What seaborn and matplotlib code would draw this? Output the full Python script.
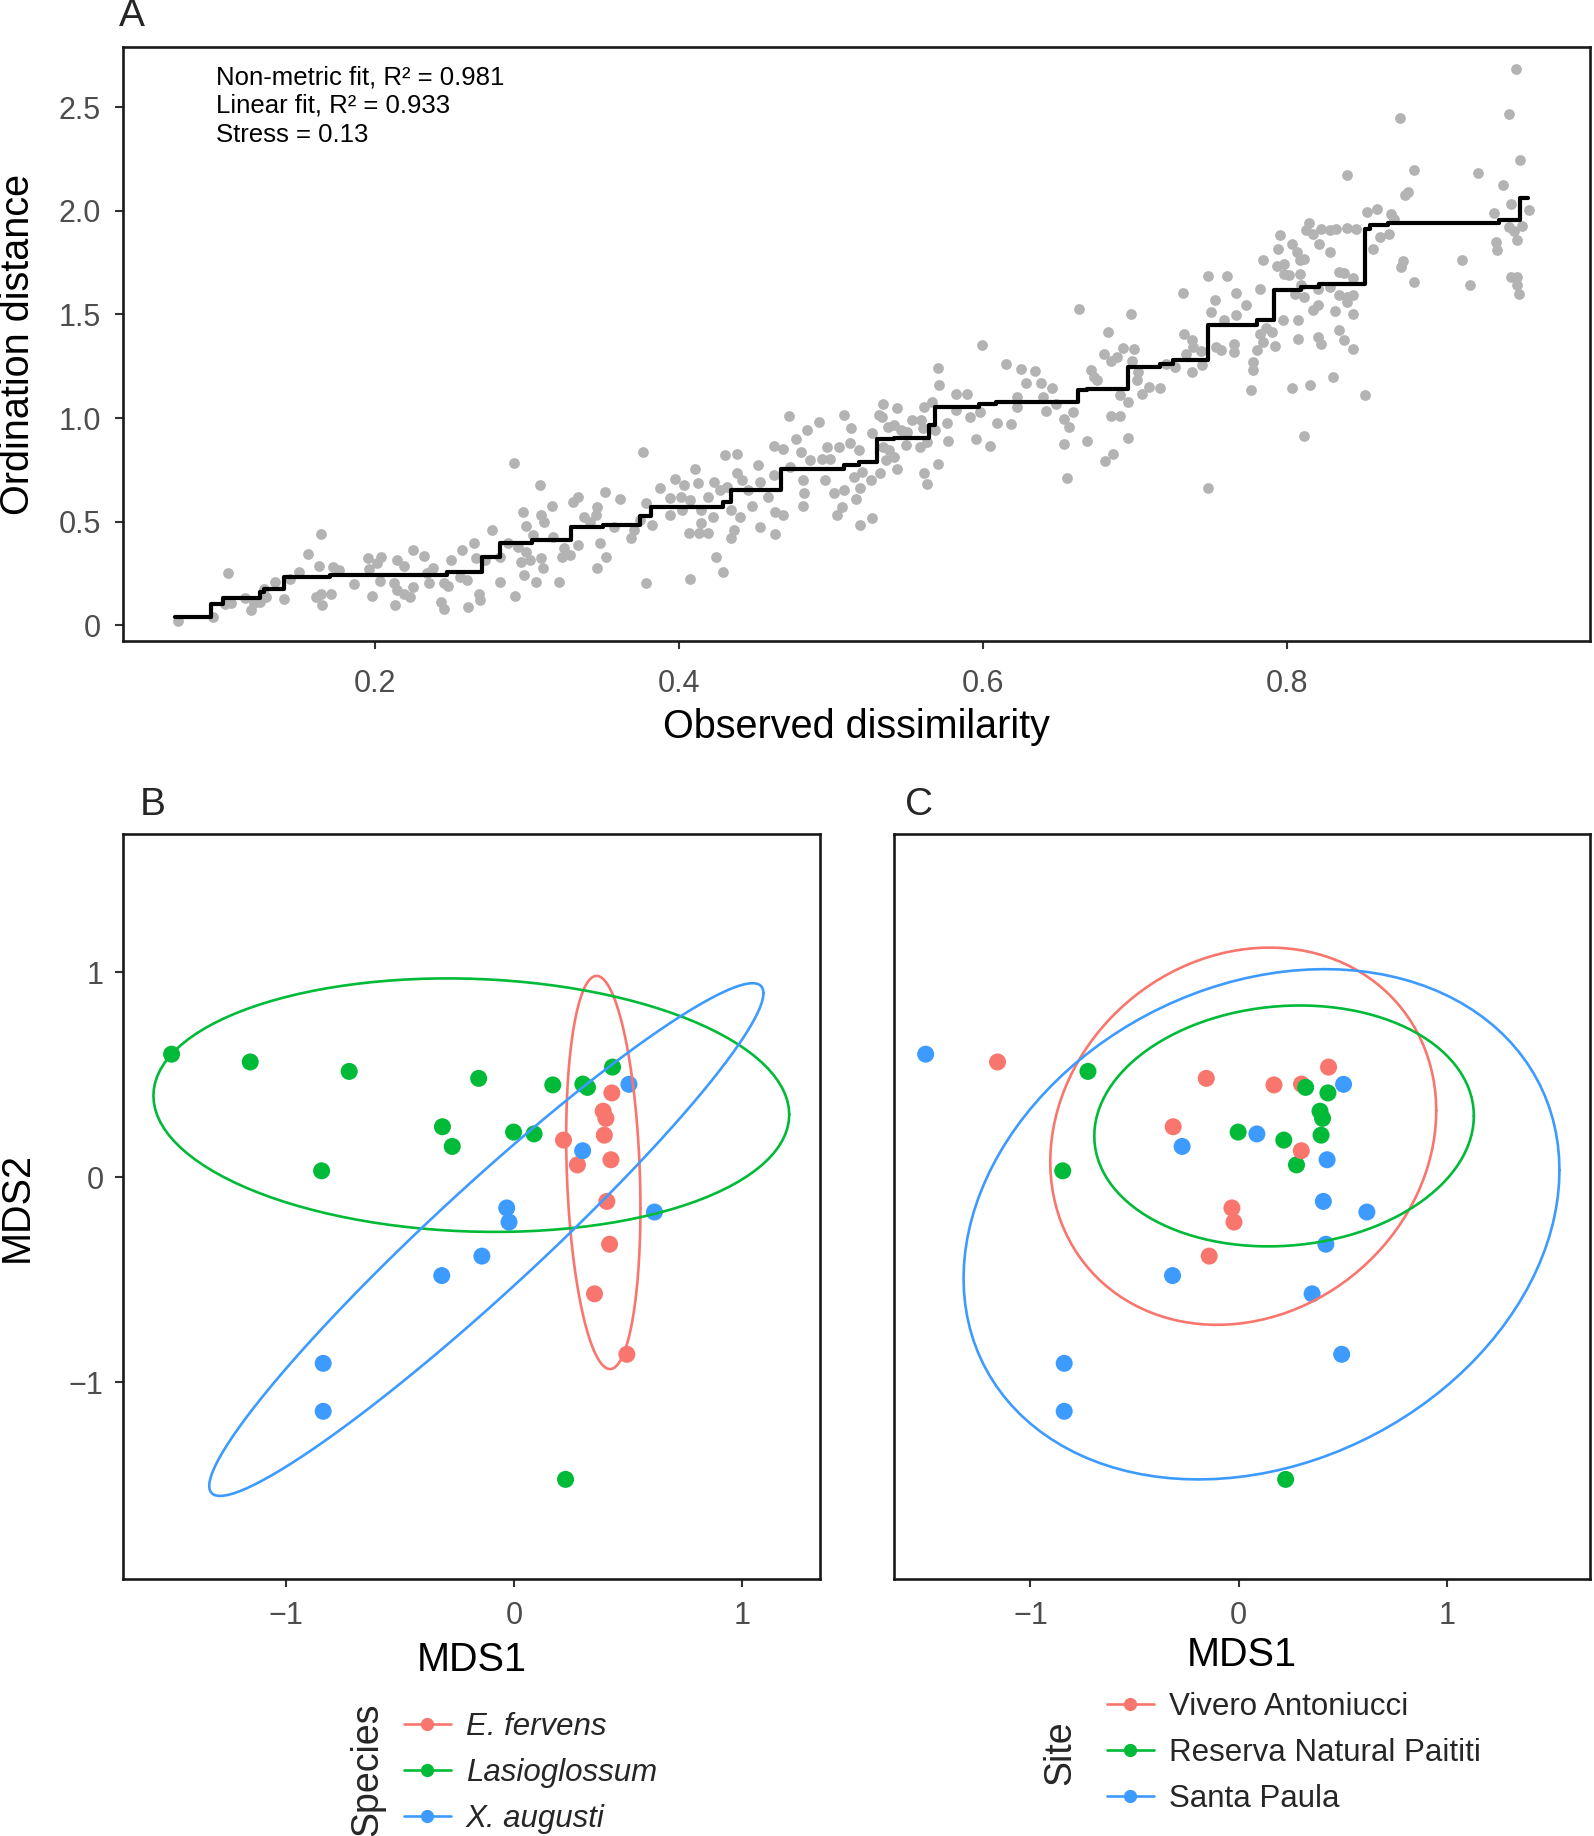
import numpy as np
import pandas as pd
import matplotlib
matplotlib.use("Agg")
import matplotlib.pyplot as plt
import seaborn as sns
from matplotlib.lines import Line2D

sns.set_theme(style="white")
plt.rcParams["font.family"] = ["Liberation Sans", "DejaVu Sans"]

# ---------------- Panel A: Shepard diagram data ----------------
shep_x = [
    0.070, 0.093, 0.103, 0.101, 0.105, 0.114, 0.118, 0.120, 0.124, 0.127, 0.128, 0.134, 0.140, 0.144, 0.150,
    0.156, 0.163, 0.164, 0.161, 0.164, 0.165, 0.171, 0.172, 0.176, 0.186, 0.195, 0.196, 0.201, 0.204, 0.198,
    0.203, 0.214, 0.219, 0.212, 0.214, 0.219, 0.223, 0.225, 0.213, 0.225, 0.232, 0.234, 0.235, 0.238, 0.243,
    0.245, 0.245, 0.248, 0.250, 0.256, 0.257, 0.260, 0.261, 0.265, 0.266, 0.268, 0.269, 0.272, 0.277, 0.282,
    0.282, 0.292, 0.306, 0.321, 0.378, 0.407,
    0.291, 0.308, 0.297, 0.299, 0.309, 0.316, 0.311, 0.304, 0.287, 0.294, 0.299, 0.302, 0.296, 0.309, 0.310,
    0.298, 0.323, 0.328, 0.317, 0.324, 0.333, 0.330, 0.333, 0.337, 0.341, 0.346, 0.345, 0.351, 0.348, 0.352,
    0.346, 0.361, 0.357, 0.368, 0.370, 0.374, 0.376, 0.378, 0.382, 0.387, 0.394, 0.394, 0.397, 0.401, 0.402,
    0.403, 0.406, 0.407, 0.410, 0.412, 0.413, 0.414, 0.414, 0.419, 0.419, 0.422, 0.423, 0.424, 0.429, 0.427,
    0.430, 0.431, 0.434, 0.436, 0.434, 0.438, 0.438, 0.441, 0.440, 0.445, 0.448, 0.452, 0.453, 0.453, 0.458,
    0.462, 0.462, 0.463, 0.463, 0.468, 0.468, 0.472, 0.473, 0.477, 0.480, 0.481, 0.482, 0.481, 0.484, 0.486,
    0.492, 0.494, 0.497, 0.496, 0.499, 0.502, 0.504, 0.507, 0.508, 0.505, 0.508, 0.513, 0.512, 0.515, 0.516,
    0.518, 0.519, 0.519, 0.520, 0.526, 0.527, 0.527, 0.531,
    0.534, 0.533, 0.543, 0.537, 0.541, 0.546, 0.550, 0.553, 0.559, 0.561, 0.566, 0.560, 0.568, 0.534, 0.538,
    0.541, 0.536, 0.543, 0.532, 0.549, 0.558, 0.563, 0.561, 0.563, 0.570, 0.570, 0.571, 0.576, 0.577, 0.582,
    0.589, 0.582, 0.591, 0.595, 0.598, 0.599, 0.604, 0.609, 0.615, 0.618, 0.622, 0.622, 0.625, 0.628, 0.634,
    0.638, 0.639, 0.641, 0.645, 0.648, 0.653, 0.653, 0.655, 0.656, 0.659, 0.663, 0.668, 0.671, 0.673, 0.675,
    0.679, 0.682, 0.684, 0.684, 0.685, 0.680, 0.688, 0.690, 0.690, 0.692, 0.695, 0.695, 0.697, 0.698, 0.699,
    0.701, 0.702, 0.704, 0.709, 0.716, 0.720, 0.726, 0.731, 0.732, 0.733, 0.737, 0.737, 0.738, 0.743, 0.744,
    0.748, 0.748, 0.750, 0.752, 0.753, 0.756, 0.758, 0.760, 0.765, 0.765, 0.766, 0.766, 0.773,
    0.950, 0.946, 0.874, 0.953, 0.839, 0.883, 0.925, 0.942, 0.879, 0.877, 0.947, 0.959, 0.936, 0.852, 0.859,
    0.868, 0.870, 0.814, 0.812, 0.817, 0.822, 0.828, 0.832, 0.839, 0.845, 0.946, 0.954, 0.949, 0.867, 0.861,
    0.795, 0.794, 0.803, 0.821, 0.856, 0.828, 0.951, 0.937, 0.938, 0.915, 0.876, 0.875, 0.784, 0.793, 0.798,
    0.806, 0.808, 0.811, 0.798, 0.801, 0.808, 0.809, 0.834, 0.837, 0.843, 0.883, 0.920, 0.947, 0.951, 0.951,
    0.952, 0.782, 0.805, 0.811, 0.820, 0.828, 0.834, 0.839, 0.843, 0.839, 0.820, 0.817, 0.831, 0.843, 0.797,
    0.807, 0.786, 0.782, 0.784, 0.790, 0.792, 0.780, 0.807, 0.820, 0.822, 0.834, 0.837, 0.843, 0.777, 0.777,
    0.776, 0.803, 0.815, 0.830, 0.851, 0.811,
]
shep_y = [
    0.023, 0.039, 0.251, 0.103, 0.109, 0.130, 0.074, 0.106, 0.114, 0.178, 0.138, 0.211, 0.127, 0.222, 0.259,
    0.347, 0.288, 0.439, 0.138, 0.154, 0.098, 0.154, 0.283, 0.267, 0.198, 0.323, 0.270, 0.299, 0.331, 0.142,
    0.215, 0.315, 0.288, 0.203, 0.170, 0.154, 0.138, 0.187, 0.098, 0.363, 0.336, 0.251, 0.203, 0.275, 0.114,
    0.077, 0.203, 0.190, 0.315, 0.235, 0.366, 0.219, 0.090, 0.399, 0.323, 0.154, 0.125, 0.315, 0.460, 0.211,
    0.328, 0.142, 0.211, 0.208, 0.203, 0.224,
    0.784, 0.677, 0.548, 0.479, 0.535, 0.575, 0.500, 0.436, 0.396, 0.380, 0.355, 0.315, 0.307, 0.323, 0.275,
    0.243, 0.331, 0.339, 0.428, 0.372, 0.388, 0.596, 0.620, 0.524, 0.500, 0.572, 0.532, 0.645, 0.396, 0.331,
    0.275, 0.608, 0.476, 0.420, 0.460, 0.508, 0.837, 0.592, 0.484, 0.661, 0.617, 0.532, 0.704, 0.620, 0.556,
    0.677, 0.444, 0.604, 0.754, 0.685, 0.444, 0.492, 0.556, 0.444, 0.620, 0.524, 0.693, 0.328, 0.259, 0.653,
    0.821, 0.669, 0.420, 0.460, 0.556, 0.829, 0.733, 0.701, 0.524, 0.653, 0.575, 0.776, 0.473, 0.693, 0.620,
    0.865, 0.725, 0.548, 0.439, 0.853, 0.532, 1.009, 0.765, 0.900, 0.837, 0.701, 0.637, 0.575, 0.945, 0.797,
    0.982, 0.805, 0.862, 0.701, 0.805, 0.637, 0.532, 0.572, 1.017, 0.862, 0.653, 0.950, 0.878, 0.717, 0.612,
    0.845, 0.661, 0.484, 0.741, 0.701, 0.929, 0.516, 1.014,
    1.070, 1.006, 1.051, 0.958, 0.966, 0.942, 0.934, 0.990, 0.990, 1.054, 1.078, 0.950, 0.942, 0.861, 0.845,
    0.813, 0.797, 0.757, 0.733, 0.869, 0.861, 0.885, 0.736, 0.681, 0.778, 1.244, 1.159, 0.977, 0.889, 1.118,
    1.118, 1.038, 1.006, 0.897, 1.030, 1.351, 0.866, 0.977, 1.260, 0.974, 1.102, 1.054, 1.236, 1.170, 1.228,
    1.167, 1.102, 1.035, 1.147, 1.070, 0.998, 0.874, 0.709, 0.958, 1.030, 1.526, 0.890, 1.231, 1.199, 1.183,
    1.308, 1.414, 1.276, 1.011, 0.829, 0.792, 1.295, 1.110, 1.011, 1.340, 1.078, 0.902, 1.504, 1.276, 1.331,
    1.186, 1.223, 1.118, 1.151, 1.147, 1.263, 1.247, 1.605, 1.408, 1.311, 1.375, 1.223, 1.343, 1.324, 1.255,
    1.684, 0.665, 1.512, 1.568, 1.343, 1.327, 1.475, 1.684, 1.359, 1.319, 1.605, 1.496, 1.544,
    2.685, 2.468, 2.449, 2.246, 2.174, 2.195, 2.183, 2.122, 2.090, 2.074, 2.031, 2.005, 1.989, 1.994, 2.010,
    1.986, 1.962, 1.941, 1.906, 1.889, 1.914, 1.909, 1.914, 1.918, 1.914, 1.922, 1.925, 1.902, 1.886, 1.873,
    1.881, 1.817, 1.838, 1.841, 1.817, 1.801, 1.857, 1.849, 1.809, 1.761, 1.758, 1.729, 1.764, 1.734, 1.745,
    1.801, 1.761, 1.769, 1.697, 1.689, 1.697, 1.641, 1.705, 1.702, 1.677, 1.657, 1.644, 1.681, 1.681, 1.641,
    1.597, 1.624, 1.597, 1.584, 1.624, 1.632, 1.592, 1.584, 1.592, 1.560, 1.544, 1.520, 1.515, 1.504, 1.475,
    1.472, 1.436, 1.408, 1.367, 1.416, 1.347, 1.327, 1.380, 1.391, 1.359, 1.427, 1.375, 1.335, 1.271, 1.231,
    1.135, 1.143, 1.159, 1.199, 1.110, 0.913,
]

# monotone (non-metric) fit: break points and fitted levels
step_x = [0.068, 0.092, 0.100, 0.124, 0.127, 0.140, 0.170, 0.247, 0.270, 0.282, 0.303, 0.329, 0.350, 0.374,
          0.381, 0.429, 0.434, 0.467, 0.508, 0.518, 0.530, 0.541, 0.564, 0.568, 0.597, 0.608, 0.662, 0.668,
          0.695, 0.716, 0.725, 0.748, 0.780, 0.791, 0.809, 0.821, 0.851, 0.854, 0.866, 0.939, 0.953, 0.958]
step_y = [0.040, 0.103, 0.134, 0.159, 0.174, 0.232, 0.241, 0.259, 0.331, 0.399, 0.410, 0.473, 0.484, 0.529,
          0.572, 0.596, 0.652, 0.757, 0.776, 0.789, 0.897, 0.906, 0.966, 1.054, 1.067, 1.077, 1.134, 1.142,
          1.247, 1.263, 1.279, 1.451, 1.475, 1.620, 1.632, 1.645, 1.914, 1.933, 1.941, 1.954, 2.063, 2.063]

fit_text = ["Non-metric fit, R\u00b2 = 0.981", "Linear fit, R\u00b2 = 0.933", "Stress = 0.13"]

# ---------------- Panels B, C: NMDS ordination ----------------
mds1 = [0.428, 0.390, 0.402, 0.395, 0.216, 0.277, 0.424, 0.406, 0.418, 0.352, 0.494,
        -1.503, -1.158, -0.724, -0.156, 0.169, 0.301, 0.321, 0.431, -0.315, -0.272, -0.003, 0.087, -0.845, 0.225,
        0.503, 0.300, 0.615, -0.033, -0.023, -0.142, -0.318, -0.838, -0.838]
mds2 = [0.411, 0.322, 0.287, 0.205, 0.181, 0.060, 0.085, -0.118, -0.327, -0.569, -0.864,
        0.600, 0.562, 0.516, 0.482, 0.450, 0.454, 0.438, 0.537, 0.246, 0.150, 0.220, 0.211, 0.031, -1.474,
        0.453, 0.129, -0.170, -0.150, -0.219, -0.385, -0.480, -0.908, -1.142]
species = ["E. fervens"] * 11 + ["Lasioglossum"] * 14 + ["X. augusti"] * 9
site = (["Reserva Natural Paititi"] * 6 + ["Santa Paula"] * 5 +
        ["Santa Paula", "Vivero Antoniucci", "Reserva Natural Paititi", "Vivero Antoniucci", "Vivero Antoniucci",
         "Vivero Antoniucci", "Reserva Natural Paititi", "Vivero Antoniucci", "Vivero Antoniucci", "Santa Paula",
         "Reserva Natural Paititi", "Santa Paula", "Reserva Natural Paititi", "Reserva Natural Paititi"] +
        ["Santa Paula", "Vivero Antoniucci", "Santa Paula", "Vivero Antoniucci", "Vivero Antoniucci",
         "Vivero Antoniucci", "Santa Paula", "Santa Paula", "Santa Paula"])

species_levels = ["E. fervens", "Lasioglossum", "X. augusti"]
site_levels = ["Vivero Antoniucci", "Reserva Natural Paititi", "Santa Paula"]
colors = ["#F8766D", "#00BA38", "#3D9BFF"]

df = pd.DataFrame({"MDS1": mds1, "MDS2": mds2, "Species": species, "Site": site})


def cov_trob(X, nu=5, maxit=25, tol=0.01):
    n, p = X.shape
    wt = np.ones(n)
    loc = X.mean(axis=0)
    w = np.sqrt(wt)
    Xc = X - loc
    for _ in range(maxit):
        w0 = w
        Xc = X - loc
        _, d, vt = np.linalg.svd(np.sqrt(w / w.sum())[:, None] * Xc, full_matrices=False)
        wX = Xc @ vt.T @ np.diag(1.0 / d)
        Q = (wX ** 2).sum(axis=1)
        w = wt * (nu + p) / (nu + Q)
        loc = (w[:, None] * X).sum(axis=0) / w.sum()
        if np.all(np.abs(w - w0) < tol):
            break
    sw = np.sqrt(w)[:, None] * Xc
    return loc, sw.T @ sw / wt.sum()


def t_ellipse(x, y, level=0.95, segments=120):
    X = np.column_stack([x, y])
    center, cov = cov_trob(X)
    dfd = len(X) - 1
    fq = dfd / 2.0 * ((1 - level) ** (-2.0 / dfd) - 1)
    radius = np.sqrt(2 * fq)
    ang = np.linspace(0, 2 * np.pi, segments + 1)
    circ = np.column_stack([np.cos(ang), np.sin(ang)])
    R = np.linalg.cholesky(cov).T
    pts = center + radius * circ @ R
    return pts[:, 0], pts[:, 1]


W, H = 1594, 1836
fig = plt.figure(figsize=(W / 100, H / 100), dpi=100)


def fbox(l, t, r, b):
    return [l / W, 1 - b / H, (r - l) / W, (b - t) / H]


TICK = 22
LAB = 28.5


def style(ax, left=True, xpad=12, ypad=9):
    for s in ax.spines.values():
        s.set_visible(True)
        s.set_color("#1a1a1a")
        s.set_linewidth(1.9)
    ax.tick_params(axis="both", direction="out", length=5.5, width=1.5, color="#333333",
                   labelcolor="#4D4D4D", labelsize=TICK, bottom=True, left=left)
    ax.tick_params(axis="x", pad=xpad)
    ax.tick_params(axis="y", pad=ypad)
    ax.grid(False)


# ---- Panel A ----
axA = fig.add_axes(fbox(123, 47, 1590, 641))
sns.scatterplot(x=shep_x, y=shep_y, color="#B3B3B3", s=60, linewidth=0, ax=axA, zorder=2)
sns.lineplot(x=step_x, y=step_y, drawstyle="steps-post", color="black", linewidth=3.0,
             estimator=None, sort=False, ax=axA, zorder=3)
axA.set_xlim(0.034, 0.999)
axA.set_ylim(-0.075, 2.79)
axA.set_xticks([0.2, 0.4, 0.6, 0.8])
axA.set_xticklabels(["0.2", "0.4", "0.6", "0.8"])
axA.set_yticks([0, 0.5, 1.0, 1.5, 2.0, 2.5])
axA.set_yticklabels(["0", "0.5", "1.0", "1.5", "2.0", "2.5"])
style(axA, xpad=14.5, ypad=10.5)
axA.set_xlabel("Observed dissimilarity", fontsize=LAB, color="black", va="center")
axA.xaxis.set_label_coords(0.5, (641 - 727) / 594)
axA.set_ylabel("Ordination distance", fontsize=LAB, color="black", va="center")
axA.yaxis.set_label_coords((18 - 123) / 1467, 0.5)
for i, t in enumerate(fit_text):
    axA.text((216 - 123) / 1467, (641 - 77 - 29 * i) / 594, t, transform=axA.transAxes,
             fontsize=18.5, color="black", va="center", ha="left")
fig.text(119 / W, 1 - 16 / H, "A", fontsize=28, ha="left", va="center")

# ---- Panels B and C ----
axB = fig.add_axes(fbox(123, 834, 820, 1579))
axC = fig.add_axes(fbox(894, 834, 1590, 1579))
for ax, col, levels, xl in [(axB, "Species", species_levels, (-1.716, 1.341)),
                            (axC, "Site", site_levels, (-1.655, 1.686))]:
    sns.scatterplot(data=df, x="MDS1", y="MDS2", hue=col, hue_order=levels, palette=colors,
                    s=150, linewidth=0, legend=False, ax=ax, zorder=2)
    for lev, c in zip(levels, colors):
        sub = df[df[col] == lev]
        ex, ey = t_ellipse(sub["MDS1"].values, sub["MDS2"].values)
        ax.plot(ex, ey, color=c, linewidth=1.9, zorder=3)
    ax.set_xlim(*xl)
    ax.set_ylim(-1.960, 1.674)
    ax.set_xticks([-1, 0, 1])
    ax.set_xticklabels(["\u22121", "0", "1"])
    ax.set_yticks([-1, 0, 1])

axB.set_yticklabels(["\u22121", "0", "1"])
style(axB, xpad=10, ypad=8.5)
style(axC, left=False, xpad=10)
axC.set_yticklabels([])
axB.set_xlabel("MDS1", fontsize=LAB, color="black", va="center")
axB.xaxis.set_label_coords(0.5, (1579 - 1660) / 745)
axC.set_xlabel("MDS1", fontsize=LAB, color="black", va="center")
axC.xaxis.set_label_coords(0.5, (1579 - 1655) / 745)
axB.set_ylabel("MDS2", fontsize=LAB, color="black", va="center")
axB.yaxis.set_label_coords((17 - 123) / 697, 0.5)
axC.set_ylabel("")
fig.text(140 / W, 1 - 805 / H, "B", fontsize=28, ha="left", va="center")
fig.text(905 / W, 1 - 805 / H, "C", fontsize=28, ha="left", va="center")

# ---- Legends ----
def handles():
    return [Line2D([0], [0], color=c, linewidth=1.9, marker="o", markersize=8.5) for c in colors]

fig.legend(handles(), species_levels, loc="center left", bbox_to_anchor=(404 / W, 1 - 1773 / H),
           frameon=False, prop={"style": "italic", "size": 22.5}, handlelength=1.5, handletextpad=0.48,
           labelspacing=0.5, borderpad=0, borderaxespad=0)
fig.text(367 / W, 1 - 1769 / H, "Species", rotation=90, fontsize=27, ha="center", va="center")
fig.legend(handles(), site_levels, loc="center left", bbox_to_anchor=(1107 / W, 1 - 1753 / H),
           frameon=False, prop={"size": 22.5}, handlelength=1.5, handletextpad=0.48,
           labelspacing=0.5, borderpad=0, borderaxespad=0)
fig.text(1060 / W, 1 - 1753 / H, "Site", rotation=90, fontsize=27, ha="center", va="center")

fig.savefig("out.png", dpi=100, facecolor="white")
